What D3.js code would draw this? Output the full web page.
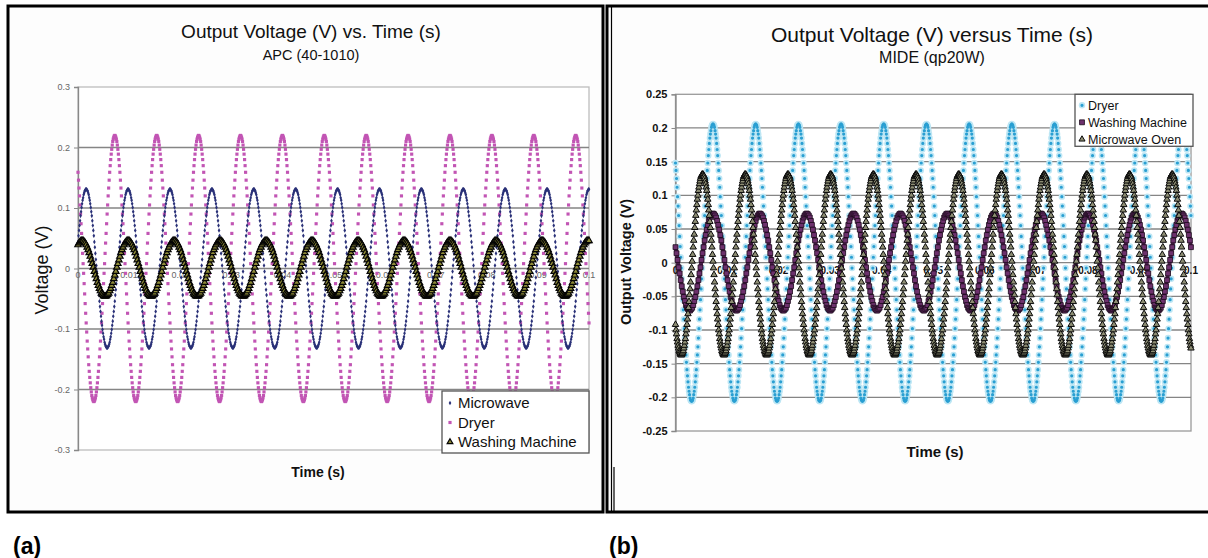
<!DOCTYPE html>
<html><head><meta charset="utf-8">
<script src="https://cdn.jsdelivr.net/npm/d3@7"></script>
<style>
body{margin:0;background:#fff}
svg{display:block}
text{font-family:"Liberation Sans",Arial,sans-serif}
</style>
</head><body>
<svg id="chart" width="1208" height="558"></svg>
<script>
// ---------------- DATA: panel (a) APC (40-1010) ----------------
const apcTitle = "Output Voltage (V) vs. Time (s)";
const apcSubtitle = "APC (40-1010)";
const apcSeriesNames = ["Microwave", "Dryer", "Washing Machine"];
const apcMicrowaveInterval = 0.0001; // s between samples
const apcDryerInterval = 0.0001;
const apcWashingInterval = 0.0002;
// samples in millivolts
const apcMicrowave_mV = [
44,54,63,71,79,87,94,101,107,113,117,122,125,128,129,131,
131,131,129,128,125,122,117,113,107,101,94,87,79,71,63,54,44,35,25,15,5,-5,-15,-25,-35,-44,-54,-63,-71,-79,-87,-94,-101,-107,-113,-117,-122,-125,-128,-129,-131,-131,-131,-129,-128,-125,-122,-117,-113,-107,-101,-94,-87,-79,-71,-63,-54,-44,-35,-25,-15,-5,5,15,25,35,44,54,63,71,79,87,94,101,107,113,117,122,125,128,129,131,
131,131,129,128,125,122,117,113,107,101,94,87,79,71,63,54,44,35,25,15,5,-5,-15,-25,-35,-44,-54,-63,-71,-79,-87,-94,-101,-107,-113,-117,-122,-125,-128,-129,-131,-131,-131,-129,-128,-125,-122,-117,-113,-107,-101,-94,-87,-79,-71,-63,-54,-44,-35,-25,-15,-5,5,15,25,35,44,54,63,71,79,87,94,101,107,113,117,122,125,128,129,131,
131,131,129,128,125,122,117,113,107,101,94,87,79,71,63,54,44,35,25,15,5,-5,-15,-25,-35,-44,-54,-63,-71,-79,-87,-94,-101,-107,-113,-117,-122,-125,-128,-129,-131,-131,-131,-129,-128,-125,-122,-117,-113,-107,-101,-94,-87,-79,-71,-63,-54,-44,-35,-25,-15,-5,5,15,25,35,44,54,63,71,79,87,94,101,107,113,117,122,125,128,129,131,
131,131,129,128,125,122,117,113,107,101,94,87,79,71,63,54,44,35,25,15,5,-5,-15,-25,-35,-44,-54,-63,-71,-79,-87,-94,-101,-107,-113,-117,-122,-125,-128,-129,-131,-131,-131,-129,-128,-125,-122,-117,-113,-107,-101,-94,-87,-79,-71,-63,-54,-44,-35,-25,-15,-5,5,15,25,35,44,54,63,71,79,87,94,101,107,113,117,122,125,128,129,131,
131,131,129,128,125,122,117,113,107,101,94,87,79,71,63,54,44,35,25,15,5,-5,-15,-25,-35,-44,-54,-63,-71,-79,-87,-94,-101,-107,-113,-117,-122,-125,-128,-129,-131,-131,-131,-129,-128,-125,-122,-117,-113,-107,-101,-94,-87,-79,-71,-63,-54,-44,-35,-25,-15,-5,5,15,25,35,44,54,63,71,79,87,94,101,107,113,117,122,125,128,129,131,
131,131,129,128,125,122,117,113,107,101,94,87,79,71,63,54,44,35,25,15,5,-5,-15,-25,-35,-44,-54,-63,-71,-79,-87,-94,-101,-107,-113,-117,-122,-125,-128,-129,-131,-131,-131,-129,-128,-125,-122,-117,-113,-107,-101,-94,-87,-79,-71,-63,-54,-44,-35,-25,-15,-5,5,15,25,35,44,54,63,71,79,87,94,101,107,113,117,122,125,128,129,131,
131,131,129,128,125,122,117,113,107,101,94,87,79,71,63,54,44,35,25,15,5,-5,-15,-25,-35,-44,-54,-63,-71,-79,-87,-94,-101,-107,-113,-117,-122,-125,-128,-129,-131,-131,-131,-129,-128,-125,-122,-117,-113,-107,-101,-94,-87,-79,-71,-63,-54,-44,-35,-25,-15,-5,5,15,25,35,44,54,63,71,79,87,94,101,107,113,117,122,125,128,129,131,
131,131,129,128,125,122,117,113,107,101,94,87,79,71,63,54,44,35,25,15,5,-5,-15,-25,-35,-44,-54,-63,-71,-79,-87,-94,-101,-107,-113,-117,-122,-125,-128,-129,-131,-131,-131,-129,-128,-125,-122,-117,-113,-107,-101,-94,-87,-79,-71,-63,-54,-44,-35,-25,-15,-5,5,15,25,35,44,54,63,71,79,87,94,101,107,113,117,122,125,128,129,131,
131,131,129,128,125,122,117,113,107,101,94,87,79,71,63,54,44,35,25,15,5,-5,-15,-25,-35,-44,-54,-63,-71,-79,-87,-94,-101,-107,-113,-117,-122,-125,-128,-129,-131,-131,-131,-129,-128,-125,-122,-117,-113,-107,-101,-94,-87,-79,-71,-63,-54,-44,-35,-25,-15,-5,5,15,25,35,44,54,63,71,79,87,94,101,107,113,117,122,125,128,129,131,
131,131,129,128,125,122,117,113,107,101,94,87,79,71,63,54,44,35,25,15,5,-5,-15,-25,-35,-44,-54,-63,-71,-79,-87,-94,-101,-107,-113,-117,-122,-125,-128,-129,-131,-131,-131,-129,-128,-125,-122,-117,-113,-107,-101,-94,-87,-79,-71,-63,-54,-44,-35,-25,-15,-5,5,15,25,35,44,54,63,71,79,87,94,101,107,113,117,122,125,128,129,131,
131,131,129,128,125,122,117,113,107,101,94,87,79,71,63,54,44,35,25,15,5,-5,-15,-25,-35,-44,-54,-63,-71,-79,-87,-94,-101,-107,-113,-117,-122,-125,-128,-129,-131,-131,-131,-129,-128,-125,-122,-117,-113,-107,-101,-94,-87,-79,-71,-63,-54,-44,-35,-25,-15,-5,5,15,25,35,44,54,63,71,79,87,94,101,107,113,117,122,125,128,129,131,
131,131,129,128,125,122,117,113,107,101,94,87,79,71,63,54,44,35,25,15,5,-5,-15,-25,-35,-44,-54,-63,-71,-79,-87,-94,-101,-107,-113,-117,-122,-125,-128,-129,-131,-131,-131,-129,-128,-125,-122,-117,-113,-107,-101,-94,-87,-79,-71,-63,-54,-44,-35,-25,-15,-5,5,15,25,35,44,54,63,71,79,87,94,101,107,113,117,122,125,128,129,131,
131
];
const apcDryer_mV = [
159,146,133,120,105,90,74,58,42,25,8,-8,-25,-42,-58,-74,-90,-105,-120,-133,-146,-159,-170,-180,-189,-197,-204,-210,-214,-217,-219,-220,-219,-217,-214,-210,-204,-197,-189,-180,-170,-159,-146,-133,-120,-105,-90,-74,-58,-42,-25,-8,8,25,42,58,74,90,105,120,133,146,159,170,180,189,197,204,210,214,217,219,
220,219,217,214,210,204,197,189,180,170,159,146,133,120,105,90,74,58,42,25,8,-8,-25,-42,-58,-74,-90,-105,-120,-133,-146,-159,-170,-180,-189,-197,-204,-210,-214,-217,-219,-220,-219,-217,-214,-210,-204,-197,-189,-180,-170,-159,-146,-133,-120,-105,-90,-74,-58,-42,-25,-8,8,25,42,58,74,90,105,120,133,146,159,170,180,189,197,204,210,214,217,219,
220,219,217,214,210,204,197,189,180,170,159,146,133,120,105,90,74,58,42,25,8,-8,-25,-42,-58,-74,-90,-105,-120,-133,-146,-159,-170,-180,-189,-197,-204,-210,-214,-217,-219,-220,-219,-217,-214,-210,-204,-197,-189,-180,-170,-159,-146,-133,-120,-105,-90,-74,-58,-42,-25,-8,8,25,42,58,74,90,105,120,133,146,159,170,180,189,197,204,210,214,217,219,
220,219,217,214,210,204,197,189,180,170,159,146,133,120,105,90,74,58,42,25,8,-8,-25,-42,-58,-74,-90,-105,-120,-133,-146,-159,-170,-180,-189,-197,-204,-210,-214,-217,-219,-220,-219,-217,-214,-210,-204,-197,-189,-180,-170,-159,-146,-133,-120,-105,-90,-74,-58,-42,-25,-8,8,25,42,58,74,90,105,120,133,146,159,170,180,189,197,204,210,214,217,219,
220,219,217,214,210,204,197,189,180,170,159,146,133,120,105,90,74,58,42,25,8,-8,-25,-42,-58,-74,-90,-105,-120,-133,-146,-159,-170,-180,-189,-197,-204,-210,-214,-217,-219,-220,-219,-217,-214,-210,-204,-197,-189,-180,-170,-159,-146,-133,-120,-105,-90,-74,-58,-42,-25,-8,8,25,42,58,74,90,105,120,133,146,159,170,180,189,197,204,210,214,217,219,
220,219,217,214,210,204,197,189,180,170,159,146,133,120,105,90,74,58,42,25,8,-8,-25,-42,-58,-74,-90,-105,-120,-133,-146,-159,-170,-180,-189,-197,-204,-210,-214,-217,-219,-220,-219,-217,-214,-210,-204,-197,-189,-180,-170,-159,-146,-133,-120,-105,-90,-74,-58,-42,-25,-8,8,25,42,58,74,90,105,120,133,146,159,170,180,189,197,204,210,214,217,219,
220,219,217,214,210,204,197,189,180,170,159,146,133,120,105,90,74,58,42,25,8,-8,-25,-42,-58,-74,-90,-105,-120,-133,-146,-159,-170,-180,-189,-197,-204,-210,-214,-217,-219,-220,-219,-217,-214,-210,-204,-197,-189,-180,-170,-159,-146,-133,-120,-105,-90,-74,-58,-42,-25,-8,8,25,42,58,74,90,105,120,133,146,159,170,180,189,197,204,210,214,217,219,
220,219,217,214,210,204,197,189,180,170,159,146,133,120,105,90,74,58,42,25,8,-8,-25,-42,-58,-74,-90,-105,-120,-133,-146,-159,-170,-180,-189,-197,-204,-210,-214,-217,-219,-220,-219,-217,-214,-210,-204,-197,-189,-180,-170,-159,-146,-133,-120,-105,-90,-74,-58,-42,-25,-8,8,25,42,58,74,90,105,120,133,146,159,170,180,189,197,204,210,214,217,219,
220,219,217,214,210,204,197,189,180,170,159,146,133,120,105,90,74,58,42,25,8,-8,-25,-42,-58,-74,-90,-105,-120,-133,-146,-159,-170,-180,-189,-197,-204,-210,-214,-217,-219,-220,-219,-217,-214,-210,-204,-197,-189,-180,-170,-159,-146,-133,-120,-105,-90,-74,-58,-42,-25,-8,8,25,42,58,74,90,105,120,133,146,159,170,180,189,197,204,210,214,217,219,
220,219,217,214,210,204,197,189,180,170,159,146,133,120,105,90,74,58,42,25,8,-8,-25,-42,-58,-74,-90,-105,-120,-133,-146,-159,-170,-180,-189,-197,-204,-210,-214,-217,-219,-220,-219,-217,-214,-210,-204,-197,-189,-180,-170,-159,-146,-133,-120,-105,-90,-74,-58,-42,-25,-8,8,25,42,58,74,90,105,120,133,146,159,170,180,189,197,204,210,214,217,219,
220,219,217,214,210,204,197,189,180,170,159,146,133,120,105,90,74,58,42,25,8,-8,-25,-42,-58,-74,-90,-105,-120,-133,-146,-159,-170,-180,-189,-197,-204,-210,-214,-217,-219,-220,-219,-217,-214,-210,-204,-197,-189,-180,-170,-159,-146,-133,-120,-105,-90,-74,-58,-42,-25,-8,8,25,42,58,74,90,105,120,133,146,159,170,180,189,197,204,210,214,217,219,
220,219,217,214,210,204,197,189,180,170,159,146,133,120,105,90,74,58,42,25,8,-8,-25,-42,-58,-74,-90,-105,-120,-133,-146,-159,-170,-180,-189,-197,-204,-210,-214,-217,-219,-220,-219,-217,-214,-210,-204,-197,-189,-180,-170,-159,-146,-133,-120,-105,-90,-74,-58,-42,-25,-8,8,25,42,58,74,90,105,120,133,146,159,170,180,189,197,204,210,214,217,219,
220,219,217,214,210,204,197,189,180,170,159,146,133,120,105,90,74,58,42,25,8,-8,-25,-42,-58,-74,-90
];
const apcWashing_mV = [
39,42,44,46,
46,46,44,42,39,35,31,26,20,14,8,2,-5,-11,-17,-23,-28,-33,-37,-41,-43,-45,-46,-46,-45,-43,-41,-37,-33,-28,-23,-17,-11,-5,2,8,14,20,26,31,35,39,42,44,46,
46,46,44,42,39,35,31,26,20,14,8,2,-5,-11,-17,-23,-28,-33,-37,-41,-43,-45,-46,-46,-45,-43,-41,-37,-33,-28,-23,-17,-11,-5,2,8,14,20,26,31,35,39,42,44,46,
46,46,44,42,39,35,31,26,20,14,8,2,-5,-11,-17,-23,-28,-33,-37,-41,-43,-45,-46,-46,-45,-43,-41,-37,-33,-28,-23,-17,-11,-5,2,8,14,20,26,31,35,39,42,44,46,
46,46,44,42,39,35,31,26,20,14,8,2,-5,-11,-17,-23,-28,-33,-37,-41,-43,-45,-46,-46,-45,-43,-41,-37,-33,-28,-23,-17,-11,-5,2,8,14,20,26,31,35,39,42,44,46,
46,46,44,42,39,35,31,26,20,14,8,2,-5,-11,-17,-23,-28,-33,-37,-41,-43,-45,-46,-46,-45,-43,-41,-37,-33,-28,-23,-17,-11,-5,2,8,14,20,26,31,35,39,42,44,46,
46,46,44,42,39,35,31,26,20,14,8,2,-5,-11,-17,-23,-28,-33,-37,-41,-43,-45,-46,-46,-45,-43,-41,-37,-33,-28,-23,-17,-11,-5,2,8,14,20,26,31,35,39,42,44,46,
46,46,44,42,39,35,31,26,20,14,8,2,-5,-11,-17,-23,-28,-33,-37,-41,-43,-45,-46,-46,-45,-43,-41,-37,-33,-28,-23,-17,-11,-5,2,8,14,20,26,31,35,39,42,44,46,
46,46,44,42,39,35,31,26,20,14,8,2,-5,-11,-17,-23,-28,-33,-37,-41,-43,-45,-46,-46,-45,-43,-41,-37,-33,-28,-23,-17,-11,-5,2,8,14,20,26,31,35,39,42,44,46,
46,46,44,42,39,35,31,26,20,14,8,2,-5,-11,-17,-23,-28,-33,-37,-41,-43,-45,-46,-46,-45,-43,-41,-37,-33,-28,-23,-17,-11,-5,2,8,14,20,26,31,35,39,42,44,46,
46,46,44,42,39,35,31,26,20,14,8,2,-5,-11,-17,-23,-28,-33,-37,-41,-43,-45,-46,-46,-45,-43,-41,-37,-33,-28,-23,-17,-11,-5,2,8,14,20,26,31,35,39,42,44,46,
46,46,44,42,39,35,31,26,20,14,8,2,-5,-11,-17,-23,-28,-33,-37,-41,-43,-45,-46,-46,-45,-43,-41,-37,-33,-28,-23,-17,-11,-5,2,8,14,20,26,31,35,39,42,44,46,
46,46
];
const apcYTicks = [0.3, 0.2, 0.1, 0, -0.1, -0.2, -0.3];
const apcYTickLabels = ["0.3", "0.2", "0.1", "0", "-0.1", "-0.2", "-0.3"];
const apcXTicks = [0, 0.01, 0.02, 0.03, 0.04, 0.05, 0.06, 0.07, 0.08, 0.09, 0.1];
const apcXTickLabels = ["0", "0.01", "0.02", "0.03", "0.04", "0.05", "0.06", "0.07", "0.08", "0.09", "0.1"];

// ---------------- DATA: panel (b) MIDE (qp20W) ----------------
const mideTitle = "Output Voltage (V) versus Time (s)";
const mideSubtitle = "MIDE (qp20W)";
const mideSeriesNames = ["Dryer", "Washing Machine", "Microwave Oven"];
const mideDryerInterval = 0.000101;
const mideWashingInterval = 0.000202;
const mideMicrowaveInterval = 0.000101;
const mideDryer_mV = [
148,137,125,112,98,84,70,55,39,24,8,-8,-24,-39,-55,-70,-84,-98,-112,-125,-137,-148,-159,-168,-177,-185,-191,-196,-201,-204,-205,-206,-205,-204,-201,-196,-191,-185,-177,-168,-159,-148,-137,-125,-112,-98,-84,-70,-55,-39,-24,-8,8,24,39,55,70,84,98,112,125,137,148,159,168,177,185,191,196,201,204,205,
206,205,204,201,196,191,185,177,168,159,148,137,125,112,98,84,70,55,39,24,8,-8,-24,-39,-55,-70,-84,-98,-112,-125,-137,-148,-159,-168,-177,-185,-191,-196,-201,-204,-205,-206,-205,-204,-201,-196,-191,-185,-177,-168,-159,-148,-137,-125,-112,-98,-84,-70,-55,-39,-24,-8,8,24,39,55,70,84,98,112,125,137,148,159,168,177,185,191,196,201,204,205,
206,205,204,201,196,191,185,177,168,159,148,137,125,112,98,84,70,55,39,24,8,-8,-24,-39,-55,-70,-84,-98,-112,-125,-137,-148,-159,-168,-177,-185,-191,-196,-201,-204,-205,-206,-205,-204,-201,-196,-191,-185,-177,-168,-159,-148,-137,-125,-112,-98,-84,-70,-55,-39,-24,-8,8,24,39,55,70,84,98,112,125,137,148,159,168,177,185,191,196,201,204,205,
206,205,204,201,196,191,185,177,168,159,148,137,125,112,98,84,70,55,39,24,8,-8,-24,-39,-55,-70,-84,-98,-112,-125,-137,-148,-159,-168,-177,-185,-191,-196,-201,-204,-205,-206,-205,-204,-201,-196,-191,-185,-177,-168,-159,-148,-137,-125,-112,-98,-84,-70,-55,-39,-24,-8,8,24,39,55,70,84,98,112,125,137,148,159,168,177,185,191,196,201,204,205,
206,205,204,201,196,191,185,177,168,159,148,137,125,112,98,84,70,55,39,24,8,-8,-24,-39,-55,-70,-84,-98,-112,-125,-137,-148,-159,-168,-177,-185,-191,-196,-201,-204,-205,-206,-205,-204,-201,-196,-191,-185,-177,-168,-159,-148,-137,-125,-112,-98,-84,-70,-55,-39,-24,-8,8,24,39,55,70,84,98,112,125,137,148,159,168,177,185,191,196,201,204,205,
206,205,204,201,196,191,185,177,168,159,148,137,125,112,98,84,70,55,39,24,8,-8,-24,-39,-55,-70,-84,-98,-112,-125,-137,-148,-159,-168,-177,-185,-191,-196,-201,-204,-205,-206,-205,-204,-201,-196,-191,-185,-177,-168,-159,-148,-137,-125,-112,-98,-84,-70,-55,-39,-24,-8,8,24,39,55,70,84,98,112,125,137,148,159,168,177,185,191,196,201,204,205,
206,205,204,201,196,191,185,177,168,159,148,137,125,112,98,84,70,55,39,24,8,-8,-24,-39,-55,-70,-84,-98,-112,-125,-137,-148,-159,-168,-177,-185,-191,-196,-201,-204,-205,-206,-205,-204,-201,-196,-191,-185,-177,-168,-159,-148,-137,-125,-112,-98,-84,-70,-55,-39,-24,-8,8,24,39,55,70,84,98,112,125,137,148,159,168,177,185,191,196,201,204,205,
206,205,204,201,196,191,185,177,168,159,148,137,125,112,98,84,70,55,39,24,8,-8,-24,-39,-55,-70,-84,-98,-112,-125,-137,-148,-159,-168,-177,-185,-191,-196,-201,-204,-205,-206,-205,-204,-201,-196,-191,-185,-177,-168,-159,-148,-137,-125,-112,-98,-84,-70,-55,-39,-24,-8,8,24,39,55,70,84,98,112,125,137,148,159,168,177,185,191,196,201,204,205,
206,205,204,201,196,191,185,177,168,159,148,137,125,112,98,84,70,55,39,24,8,-8,-24,-39,-55,-70,-84,-98,-112,-125,-137,-148,-159,-168,-177,-185,-191,-196,-201,-204,-205,-206,-205,-204,-201,-196,-191,-185,-177,-168,-159,-148,-137,-125,-112,-98,-84,-70,-55,-39,-24,-8,8,24,39,55,70,84,98,112,125,137,148,159,168,177,185,191,196,201,204,205,
206,205,204,201,196,191,185,177,168,159,148,137,125,112,98,84,70,55,39,24,8,-8,-24,-39,-55,-70,-84,-98,-112,-125,-137,-148,-159,-168,-177,-185,-191,-196,-201,-204,-205,-206,-205,-204,-201,-196,-191,-185,-177,-168,-159,-148,-137,-125,-112,-98,-84,-70,-55,-39,-24,-8,8,24,39,55,70,84,98,112,125,137,148,159,168,177,185,191,196,201,204,205,
206,205,204,201,196,191,185,177,168,159,148,137,125,112,98,84,70,55,39,24,8,-8,-24,-39,-55,-70,-84,-98,-112,-125,-137,-148,-159,-168,-177,-185,-191,-196,-201,-204,-205,-206,-205,-204,-201,-196,-191,-185,-177,-168,-159,-148,-137,-125,-112,-98,-84,-70,-55,-39,-24,-8,8,24,39,55,70,84,98,112,125,137,148,159,168,177,185,191,196,201,204,205,
206,205,204,201,196,191,185,177,168,159,148,137,125,112,98,84,70,55,39,24,8,-8,-24,-39,-55,-70,-84,-98,-112,-125,-137,-148,-159,-168,-177,-185,-191,-196,-201,-204,-205,-206,-205,-204,-201,-196,-191,-185,-177,-168,-159,-148,-137,-125,-112,-98,-84,-70,-55,-39,-24,-8,8,24,39,55,70,84,98,112,125,137,148,159,168,177,185,191,196,201,204,205,
206,205,204,201,196,191,185,177,168,159,148,137,125,112,98,84,70
];
const mideWashing_mV = [
23,14,4,-7,-16,-26,-35,-43,-51,-57,-63,-67,-69,-71,-71,-69,-67,-63,-57,-51,-43,-35,-26,-16,-7,4,14,23,33,41,49,56,62,67,70,72,
73,72,70,67,62,56,49,41,33,23,14,4,-7,-16,-26,-35,-43,-51,-57,-63,-67,-69,-71,-71,-69,-67,-63,-57,-51,-43,-35,-26,-16,-7,4,14,23,33,41,49,56,62,67,70,72,
73,72,70,67,62,56,49,41,33,23,14,4,-7,-16,-26,-35,-43,-51,-57,-63,-67,-69,-71,-71,-69,-67,-63,-57,-51,-43,-35,-26,-16,-7,4,14,23,33,41,49,56,62,67,70,72,
73,72,70,67,62,56,49,41,33,23,14,4,-7,-16,-26,-35,-43,-51,-57,-63,-67,-69,-71,-71,-69,-67,-63,-57,-51,-43,-35,-26,-16,-7,4,14,23,33,41,49,56,62,67,70,72,
73,72,70,67,62,56,49,41,33,23,14,4,-7,-16,-26,-35,-43,-51,-57,-63,-67,-69,-71,-71,-69,-67,-63,-57,-51,-43,-35,-26,-16,-7,4,14,23,33,41,49,56,62,67,70,72,
73,72,70,67,62,56,49,41,33,23,14,4,-7,-16,-26,-35,-43,-51,-57,-63,-67,-69,-71,-71,-69,-67,-63,-57,-51,-43,-35,-26,-16,-7,4,14,23,33,41,49,56,62,67,70,72,
73,72,70,67,62,56,49,41,33,23,14,4,-7,-16,-26,-35,-43,-51,-57,-63,-67,-69,-71,-71,-69,-67,-63,-57,-51,-43,-35,-26,-16,-7,4,14,23,33,41,49,56,62,67,70,72,
73,72,70,67,62,56,49,41,33,23,14,4,-7,-16,-26,-35,-43,-51,-57,-63,-67,-69,-71,-71,-69,-67,-63,-57,-51,-43,-35,-26,-16,-7,4,14,23,33,41,49,56,62,67,70,72,
73,72,70,67,62,56,49,41,33,23,14,4,-7,-16,-26,-35,-43,-51,-57,-63,-67,-69,-71,-71,-69,-67,-63,-57,-51,-43,-35,-26,-16,-7,4,14,23,33,41,49,56,62,67,70,72,
73,72,70,67,62,56,49,41,33,23,14,4,-7,-16,-26,-35,-43,-51,-57,-63,-67,-69,-71,-71,-69,-67,-63,-57,-51,-43,-35,-26,-16,-7,4,14,23,33,41,49,56,62,67,70,72,
73,72,70,67,62,56,49,41,33,23,14,4,-7,-16,-26,-35,-43,-51,-57,-63,-67,-69,-71,-71,-69,-67,-63,-57,-51,-43,-35,-26,-16,-7,4,14,23,33,41,49,56,62,67,70,72,
73,72,70,67,62,56,49,41,33,23
];
const mideMicrowave_mV = [
-92,-100,-106,-113,-118,-123,-127,-131,-133,-135,-137,-137,-137,-135,-133,-131,-127,-123,-118,-113,-106,-100,-92,-84,-76,-67,-58,-48,-39,-29,-18,-8,2,12,23,33,42,52,61,70,78,86,94,100,107,112,117,121,125,128,129,131,
131,131,129,128,125,121,117,112,107,100,94,86,78,70,61,52,42,33,23,12,2,-8,-18,-29,-39,-48,-58,-67,-76,-84,-92,-100,-106,-113,-118,-123,-127,-131,-133,-135,-137,-137,-137,-135,-133,-131,-127,-123,-118,-113,-106,-100,-92,-84,-76,-67,-58,-48,-39,-29,-18,-8,2,12,23,33,42,52,61,70,78,86,94,100,107,112,117,121,125,128,129,131,
131,131,129,128,125,121,117,112,107,100,94,86,78,70,61,52,42,33,23,12,2,-8,-18,-29,-39,-48,-58,-67,-76,-84,-92,-100,-106,-113,-118,-123,-127,-131,-133,-135,-137,-137,-137,-135,-133,-131,-127,-123,-118,-113,-106,-100,-92,-84,-76,-67,-58,-48,-39,-29,-18,-8,2,12,23,33,42,52,61,70,78,86,94,100,107,112,117,121,125,128,129,131,
131,131,129,128,125,121,117,112,107,100,94,86,78,70,61,52,42,33,23,12,2,-8,-18,-29,-39,-48,-58,-67,-76,-84,-92,-100,-106,-113,-118,-123,-127,-131,-133,-135,-137,-137,-137,-135,-133,-131,-127,-123,-118,-113,-106,-100,-92,-84,-76,-67,-58,-48,-39,-29,-18,-8,2,12,23,33,42,52,61,70,78,86,94,100,107,112,117,121,125,128,129,131,
131,131,129,128,125,121,117,112,107,100,94,86,78,70,61,52,42,33,23,12,2,-8,-18,-29,-39,-48,-58,-67,-76,-84,-92,-100,-106,-113,-118,-123,-127,-131,-133,-135,-137,-137,-137,-135,-133,-131,-127,-123,-118,-113,-106,-100,-92,-84,-76,-67,-58,-48,-39,-29,-18,-8,2,12,23,33,42,52,61,70,78,86,94,100,107,112,117,121,125,128,129,131,
131,131,129,128,125,121,117,112,107,100,94,86,78,70,61,52,42,33,23,12,2,-8,-18,-29,-39,-48,-58,-67,-76,-84,-92,-100,-106,-113,-118,-123,-127,-131,-133,-135,-137,-137,-137,-135,-133,-131,-127,-123,-118,-113,-106,-100,-92,-84,-76,-67,-58,-48,-39,-29,-18,-8,2,12,23,33,42,52,61,70,78,86,94,100,107,112,117,121,125,128,129,131,
131,131,129,128,125,121,117,112,107,100,94,86,78,70,61,52,42,33,23,12,2,-8,-18,-29,-39,-48,-58,-67,-76,-84,-92,-100,-106,-113,-118,-123,-127,-131,-133,-135,-137,-137,-137,-135,-133,-131,-127,-123,-118,-113,-106,-100,-92,-84,-76,-67,-58,-48,-39,-29,-18,-8,2,12,23,33,42,52,61,70,78,86,94,100,107,112,117,121,125,128,129,131,
131,131,129,128,125,121,117,112,107,100,94,86,78,70,61,52,42,33,23,12,2,-8,-18,-29,-39,-48,-58,-67,-76,-84,-92,-100,-106,-113,-118,-123,-127,-131,-133,-135,-137,-137,-137,-135,-133,-131,-127,-123,-118,-113,-106,-100,-92,-84,-76,-67,-58,-48,-39,-29,-18,-8,2,12,23,33,42,52,61,70,78,86,94,100,107,112,117,121,125,128,129,131,
131,131,129,128,125,121,117,112,107,100,94,86,78,70,61,52,42,33,23,12,2,-8,-18,-29,-39,-48,-58,-67,-76,-84,-92,-100,-106,-113,-118,-123,-127,-131,-133,-135,-137,-137,-137,-135,-133,-131,-127,-123,-118,-113,-106,-100,-92,-84,-76,-67,-58,-48,-39,-29,-18,-8,2,12,23,33,42,52,61,70,78,86,94,100,107,112,117,121,125,128,129,131,
131,131,129,128,125,121,117,112,107,100,94,86,78,70,61,52,42,33,23,12,2,-8,-18,-29,-39,-48,-58,-67,-76,-84,-92,-100,-106,-113,-118,-123,-127,-131,-133,-135,-137,-137,-137,-135,-133,-131,-127,-123,-118,-113,-106,-100,-92,-84,-76,-67,-58,-48,-39,-29,-18,-8,2,12,23,33,42,52,61,70,78,86,94,100,107,112,117,121,125,128,129,131,
131,131,129,128,125,121,117,112,107,100,94,86,78,70,61,52,42,33,23,12,2,-8,-18,-29,-39,-48,-58,-67,-76,-84,-92,-100,-106,-113,-118,-123,-127,-131,-133,-135,-137,-137,-137,-135,-133,-131,-127,-123,-118,-113,-106,-100,-92,-84,-76,-67,-58,-48,-39,-29,-18,-8,2,12,23,33,42,52,61,70,78,86,94,100,107,112,117,121,125,128,129,131,
131,131,129,128,125,121,117,112,107,100,94,86,78,70,61,52,42,33,23,12,2,-8,-18,-29,-39,-48,-58,-67,-76,-84,-92,-100,-106,-113,-118,-123,-127,-131,-133,-135,-137,-137,-137,-135,-133,-131,-127,-123,-118,-113,-106,-100,-92,-84,-76,-67,-58,-48,-39,-29,-18,-8,2,12,23,33,42,52,61,70,78,86,94,100,107,112,117,121,125,128,129,131,
131,131,129,128,125,121,117,112,107,100,94,86,78,70,61,52,42,33,23,12,2,-8,-18,-29,-39,-48,-58,-67,-76,-84,-92,-100,-106,-113,-118,-123,-127
];
const mideYTicks = [0.25, 0.2, 0.15, 0.1, 0.05, 0, -0.05, -0.1, -0.15, -0.2, -0.25];
const mideYTickLabels = ["0.25", "0.2", "0.15", "0.1", "0.05", "0", "-0.05", "-0.1", "-0.15", "-0.2", "-0.25"];
const mideXTicks = [0, 0.01, 0.02, 0.03, 0.04, 0.05, 0.06, 0.07, 0.08, 0.09, 0.1];
const mideXTickLabels = ["0", "0.01", "0.02", "0.03", "0.04", "0.05", "0.06", "0.07", "0.08", "0.09", "0.1"];

// ---------------- DRAWING ----------------
const svg = d3.select("#chart");
svg.append("rect").attr("width", 1208).attr("height", 558).attr("fill", "#fff");

// panel frames
svg.append("rect").attr("x", 8).attr("y", 6).attr("width", 595).attr("height", 506)
  .attr("fill", "#fdfdfd").attr("stroke", "#000").attr("stroke-width", 3);
svg.append("rect").attr("x", 607).attr("y", 6).attr("width", 610).attr("height", 506)
  .attr("fill", "#fdfdfd").attr("stroke", "#000").attr("stroke-width", 3);
svg.append("line").attr("x1", 611.5).attr("x2", 611.5).attr("y1", 6).attr("y2", 512)
  .attr("stroke", "#000").attr("stroke-width", 1.2);
svg.append("line").attr("x1", 614).attr("x2", 614).attr("y1", 467).attr("y2", 512)
  .attr("stroke", "#000").attr("stroke-width", 1.2);

svg.append("text").attr("x", 13).attr("y", 554).attr("font-size", 23).attr("font-weight", "bold").text("(a)");
svg.append("text").attr("x", 609).attr("y", 554).attr("font-size", 23).attr("font-weight", "bold").text("(b)");

function drawPanel(cfg) {
  const g = svg.append("g");
  const x = d3.scaleLinear().domain([0, 0.1]).range([cfg.left, cfg.right]);
  const y = d3.scaleLinear().domain([cfg.yMin, cfg.yMax]).range([cfg.bottom, cfg.top]);

  g.append("rect").attr("x", cfg.left).attr("y", cfg.top)
    .attr("width", cfg.right - cfg.left).attr("height", cfg.bottom - cfg.top)
    .attr("fill", "#fff").attr("stroke", cfg.frameColor).attr("stroke-width", 1.3);

  // gridlines
  g.selectAll(".grid").data(cfg.yTicks.filter(t => t < cfg.yMax - 1e-9 && t > cfg.yMin + 1e-9)).join("line")
    .attr("x1", cfg.left).attr("x2", cfg.right)
    .attr("y1", d => y(d)).attr("y2", d => y(d))
    .attr("stroke", "#858585").attr("stroke-width", 1.3);

  // y axis
  const yAxis = d3.axisLeft(y).tickValues(cfg.yTicks).tickSize(4)
    .tickFormat((d, i) => cfg.yTickLabels[i]);
  const ya = g.append("g").attr("transform", `translate(${cfg.left},0)`).call(yAxis);
  ya.select(".domain").attr("stroke", "#888").attr("stroke-width", 1.3);
  ya.selectAll(".tick line").attr("stroke", "#888");
  ya.selectAll(".tick text").attr("font-size", cfg.yTickFont).attr("font-weight", cfg.tickWeight)
    .attr("fill", cfg.tickColor).attr("font-family", "Liberation Sans, Arial, sans-serif").attr("dx", -1);

  // x tick labels on the zero line
  g.selectAll(".xl").data(cfg.xTicks).join("text")
    .attr("x", d => x(d)).attr("y", y(0) + cfg.xLabelDy)
    .attr("text-anchor", "middle").attr("font-size", cfg.xTickFont)
    .attr("font-weight", cfg.tickWeight).attr("fill", cfg.tickColor)
    .text((d, i) => cfg.xTickLabels[i]);

  // series
  cfg.series.forEach(s => {
    const t = s.values.map((v, i) => i * s.step);
    const sg = g.append("g");
    if (s.band) {
      const line = d3.line().x((d, i) => x(t[i])).y(d => y(d / 1000));
      sg.append("path").attr("d", line(s.values)).attr("fill", "none")
        .attr("stroke", s.band).attr("stroke-width", s.bandWidth);
    }
    if (s.halo) {
      sg.selectAll(".h").data(s.values).join("circle")
        .attr("cx", (d, i) => x(t[i])).attr("cy", d => y(d / 1000))
        .attr("r", s.halo.r).attr("fill", s.halo.color);
    }
    const sym = d3.symbol().type(s.symbol).size(s.size)();
    sg.selectAll(".m").data(s.values).join("path")
      .attr("d", sym)
      .attr("transform", (d, i) => `translate(${x(t[i])},${y(d / 1000)})`)
      .attr("fill", s.fill).attr("stroke", s.stroke || "none").attr("stroke-width", s.strokeWidth || 0);
  });

  // titles
  g.append("text").attr("x", cfg.titleX).attr("y", cfg.titleY).attr("text-anchor", "middle")
    .attr("font-size", cfg.titleFont).attr("fill", "#111").text(cfg.title);
  g.append("text").attr("x", cfg.titleX).attr("y", cfg.subY).attr("text-anchor", "middle")
    .attr("font-size", cfg.subFont).attr("fill", "#111").text(cfg.subtitle);
  // axis titles
  g.append("text").attr("x", cfg.xTitleX).attr("y", cfg.xTitleY).attr("text-anchor", "middle")
    .attr("font-size", cfg.xTitleFont).attr("font-weight", "bold").attr("fill", "#111").text("Time (s)");
  g.append("text").attr("transform", `translate(${cfg.yTitleX},${cfg.yTitleY}) rotate(-90)`)
    .attr("text-anchor", "middle").attr("font-size", cfg.yTitleFont).attr("font-weight", cfg.yTitleWeight)
    .attr("fill", "#111").text(cfg.yTitle);

  // legend
  const L = cfg.legend;
  const lg = g.append("g");
  lg.append("rect").attr("x", L.x).attr("y", L.y).attr("width", L.w).attr("height", L.h)
    .attr("fill", "#fff").attr("stroke", "#555").attr("stroke-width", 1.3);
  L.order.forEach((si, k) => {
    const s = cfg.series[si];
    const cy = L.y + L.first + k * L.gap;
    if (s.halo) lg.append("circle").attr("cx", L.mx).attr("cy", cy).attr("r", s.halo.r).attr("fill", s.halo.color);
    lg.append("path").attr("d", d3.symbol().type(s.symbol).size(s.legendSize || s.size)())
      .attr("transform", `translate(${L.mx},${cy})`)
      .attr("fill", s.fill).attr("stroke", s.stroke || "none").attr("stroke-width", s.strokeWidth || 0);
    lg.append("text").attr("x", L.tx).attr("y", cy + L.font * 0.36).attr("font-size", L.font)
      .attr("fill", "#111").text(s.name);
  });
}

drawPanel({
  left: 78, right: 589, top: 87, bottom: 450, yMin: -0.3, yMax: 0.3,
  frameColor: "#bdbdbd", yTicks: apcYTicks, yTickLabels: apcYTickLabels,
  xTicks: apcXTicks, xTickLabels: apcXTickLabels,
  yTickFont: 9, xTickFont: 9, tickWeight: "normal", tickColor: "#666", xLabelDy: 9,
  title: apcTitle, subtitle: apcSubtitle, titleX: 311, titleY: 38, subY: 60, titleFont: 19, subFont: 14.5,
  xTitleX: 318, xTitleY: 477, xTitleFont: 14, yTitle: "Voltage (V)", yTitleX: 48, yTitleY: 270,
  yTitleFont: 18, yTitleWeight: "normal",
  series: [
    { name: apcSeriesNames[1], values: apcDryer_mV, step: apcDryerInterval, symbol: d3.symbolSquare, size: 10, fill: "#c255b4" },
    { name: apcSeriesNames[0], values: apcMicrowave_mV, step: apcMicrowaveInterval, symbol: d3.symbolDiamond, size: 6, fill: "#2a3178" },
    { name: apcSeriesNames[2], values: apcWashing_mV, step: apcWashingInterval, symbol: d3.symbolTriangle, size: 18, legendSize: 14, fill: "#8e8b38", stroke: "#050505", strokeWidth: 1.2 }
  ],
  legend: { x: 442, y: 391, w: 147, h: 62, first: 12, gap: 19.5, mx: 450, tx: 458, font: 15, order: [1, 0, 2] }
});

drawPanel({
  left: 675.5, right: 1191, top: 94.3, bottom: 431, yMin: -0.25, yMax: 0.25,
  frameColor: "#9a9a9a", yTicks: mideYTicks, yTickLabels: mideYTickLabels,
  xTicks: mideXTicks, xTickLabels: mideXTickLabels,
  yTickFont: 11, xTickFont: 10, tickWeight: "bold", tickColor: "#111", xLabelDy: 11,
  title: mideTitle, subtitle: mideSubtitle, titleX: 932, titleY: 42, subY: 63, titleFont: 21, subFont: 16,
  xTitleX: 935, xTitleY: 457, xTitleFont: 15, yTitle: "Output Voltage (V)", yTitleX: 631, yTitleY: 262,
  yTitleFont: 14.5, yTitleWeight: "bold",
  series: [
    { name: mideSeriesNames[0], values: mideDryer_mV, step: mideDryerInterval, symbol: d3.symbolCircle, size: 8, fill: "#2a9fd2", halo: { r: 3.2, color: "#bde6f4" } },
    { name: mideSeriesNames[1], values: mideWashing_mV, step: mideWashingInterval, symbol: d3.symbolSquare, size: 24, fill: "#6d316d", stroke: "#1c0a1c", strokeWidth: 0.8, band: "#4a1d4a", bandWidth: 4 },
    { name: mideSeriesNames[2], values: mideMicrowave_mV, step: mideMicrowaveInterval, symbol: d3.symbolTriangle, size: 18, legendSize: 16, fill: "#8e8e74", stroke: "#0a0a0a", strokeWidth: 1 }
  ],
  legend: { x: 1075, y: 94.3, w: 118, h: 52, first: 11, gap: 17, mx: 1082, tx: 1088, font: 12.5, order: [0, 1, 2] }
});
</script>
</body></html>
